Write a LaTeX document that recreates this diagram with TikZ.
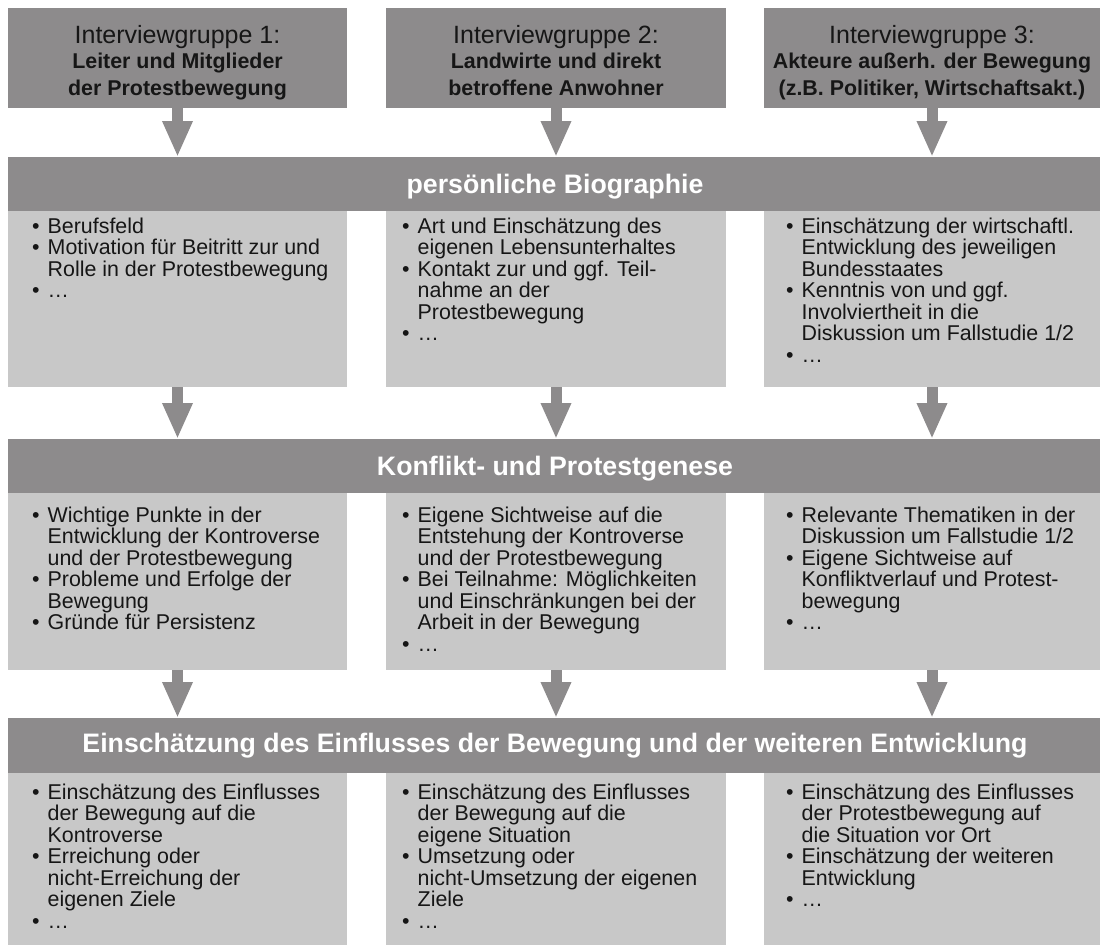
\documentclass[tikz,border=0pt]{standalone}
\usepackage{fontspec}
\setmainfont{Liberation Sans}
\usetikzlibrary{arrows.meta}
\definecolor{dgray}{RGB}{141,139,140}
\definecolor{lgray}{RGB}{200,200,200}
\definecolor{txt}{RGB}{22,22,22}
\newcommand{\bul}{\makebox[15.5pt][l]{•}}
\newcommand{\ind}{\hspace*{15.5pt}}
\newcommand{\fst}{\rule{0pt}{18pt}}
\begin{document}
\begin{tikzpicture}[x=1pt,y=-1pt,
  dbox/.style={fill=dgray, draw=none, inner sep=0pt, outer sep=0pt, anchor=north west},
  lbox/.style={fill=lgray, draw=none, inner sep=0pt, outer sep=0pt, anchor=north west},
  toptitle/.style={anchor=base, inner sep=0pt, font=\fontsize{25}{25}\selectfont, text=txt},
  topsub/.style={anchor=base, inner sep=0pt, font=\bfseries\fontsize{21.4}{21.4}\selectfont, text=txt},
  bandtext/.style={anchor=base, inner sep=0pt, font=\bfseries\fontsize{26.7}{26.7}\selectfont, text=white},
  listtext/.style={anchor=north west, inner sep=0pt, align=left, font=\fontsize{21.4}{21.5}\selectfont, text=txt},
  flow/.style={draw=dgray, line width=11pt, -{Triangle[width=28pt,length=36pt]}}
]
\fill[white] (0,0) rectangle (1100,945);
\useasboundingbox (0,0) rectangle (1100,945);

% top boxes
\node[dbox, minimum width=339pt, minimum height=100pt] (g1) at (8,8) {};
\node[dbox, minimum width=340pt, minimum height=100pt] (g2) at (386,8) {};
\node[dbox, minimum width=336pt, minimum height=100pt] (g3) at (764,8) {};

\node[toptitle] (g1a) at (177.5,43) {Interviewgruppe 1:};
\node[topsub] (g1b) at (177.5,68) {Leiter und Mitglieder};
\node[topsub] (g1c) at (177.5,95) {der Protestbewegung};
\node[toptitle] (g2a) at (556,43) {Interviewgruppe 2:};
\node[topsub] (g2b) at (556,68) {Landwirte und direkt};
\node[topsub] (g2c) at (556,95) {betroffene Anwohner};
\node[toptitle] (g3a) at (932,43) {Interviewgruppe 3:};
\node[topsub] (g3b) at (932,68) {Akteure außerh. der Bewegung};
\node[topsub] (g3c) at (932,95) {(z.B. Politiker, Wirtschaftsakt.)};

% bands
\node[dbox, minimum width=1092pt, minimum height=54pt] (b1) at (8,157) {};
\node[dbox, minimum width=1092pt, minimum height=54pt] (b2) at (8,439) {};
\node[dbox, minimum width=1092pt, minimum height=55pt] (b3) at (8,718) {};
\node[bandtext] (b1t) at (555,193) {persönliche Biographie};
\node[bandtext] (b2t) at (555,475) {Konflikt- und Protestgenese};
\node[bandtext] (b3t) at (555,752) {Einschätzung des Einflusses der Bewegung und der weiteren Entwicklung};

% content boxes
\node[lbox, minimum width=339pt, minimum height=176pt] (c11) at (8,211) {};
\node[lbox, minimum width=340pt, minimum height=176pt] (c12) at (386,211) {};
\node[lbox, minimum width=336pt, minimum height=176pt] (c13) at (764,211) {};
\node[lbox, minimum width=339pt, minimum height=177pt] (c21) at (8,493) {};
\node[lbox, minimum width=340pt, minimum height=177pt] (c22) at (386,493) {};
\node[lbox, minimum width=336pt, minimum height=177pt] (c23) at (764,493) {};
\node[lbox, minimum width=339pt, minimum height=172pt] (c31) at (8,773) {};
\node[lbox, minimum width=340pt, minimum height=172pt] (c32) at (386,773) {};
\node[lbox, minimum width=336pt, minimum height=172pt] (c33) at (764,773) {};

% arrows
\draw[flow] (g1.south) -- (g1.south |- b1.north);
\draw[flow] (g2.south) -- (g2.south |- b1.north);
\draw[flow] (g3.south) -- (g3.south |- b1.north);
\draw[flow] (c11.south) -- (c11.south |- b2.north);
\draw[flow] (c12.south) -- (c12.south |- b2.north);
\draw[flow] (c13.south) -- (c13.south |- b2.north);
\draw[flow] (c21.south) -- (c21.south |- b3.north);
\draw[flow] (c22.south) -- (c22.south |- b3.north);
\draw[flow] (c23.south) -- (c23.south |- b3.north);

% row 1 texts
\node[listtext] (l11) at (32,215) {\fst\bul Berufsfeld\\
\bul Motivation für Beitritt zur und\\
\ind Rolle in der Protestbewegung\\
\bul …};
\node[listtext] (l12) at (402,215) {\fst\bul Art und Einschätzung des\\
\ind eigenen Lebensunterhaltes\\
\bul Kontakt zur und ggf. Teil-\\
\ind nahme an der\\
\ind Protestbewegung\\
\bul …};
\node[listtext] (l13) at (786,215) {\fst\bul Einschätzung der wirtschaftl.\\
\ind Entwicklung des jeweiligen\\
\ind Bundesstaates\\
\bul Kenntnis von und ggf.\\
\ind Involviertheit in die\\
\ind Diskussion um Fallstudie 1/2\\
\bul …};

% row 2 texts
\node[listtext] (l21) at (32,504) {\fst\bul Wichtige Punkte in der\\
\ind Entwicklung der Kontroverse\\
\ind und der Protestbewegung\\
\bul Probleme und Erfolge der\\
\ind Bewegung\\
\bul Gründe für Persistenz};
\node[listtext] (l22) at (402,504) {\fst\bul Eigene Sichtweise auf die\\
\ind Entstehung der Kontroverse\\
\ind und der Protestbewegung\\
\bul Bei Teilnahme: Möglichkeiten\\
\ind und Einschränkungen bei der\\
\ind Arbeit in der Bewegung\\
\bul …};
\node[listtext] (l23) at (786,504) {\fst\bul Relevante Thematiken in der\\
\ind Diskussion um Fallstudie 1/2\\
\bul Eigene Sichtweise auf\\
\ind Konfliktverlauf und Protest-\\
\ind bewegung\\
\bul …};

% row 3 texts
\node[listtext] (l31) at (32,781) {\fst\bul Einschätzung des Einflusses\\
\ind der Bewegung auf die\\
\ind Kontroverse\\
\bul Erreichung oder\\
\ind nicht-Erreichung der\\
\ind eigenen Ziele\\
\bul …};
\node[listtext] (l32) at (402,781) {\fst\bul Einschätzung des Einflusses\\
\ind der Bewegung auf die\\
\ind eigene Situation\\
\bul Umsetzung oder\\
\ind nicht-Umsetzung der eigenen\\
\ind Ziele\\
\bul …};
\node[listtext] (l33) at (786,781) {\fst\bul Einschätzung des Einflusses\\
\ind der Protestbewegung auf\\
\ind die Situation vor Ort\\
\bul Einschätzung der weiteren\\
\ind Entwicklung\\
\bul …};
\end{tikzpicture}
\end{document}
